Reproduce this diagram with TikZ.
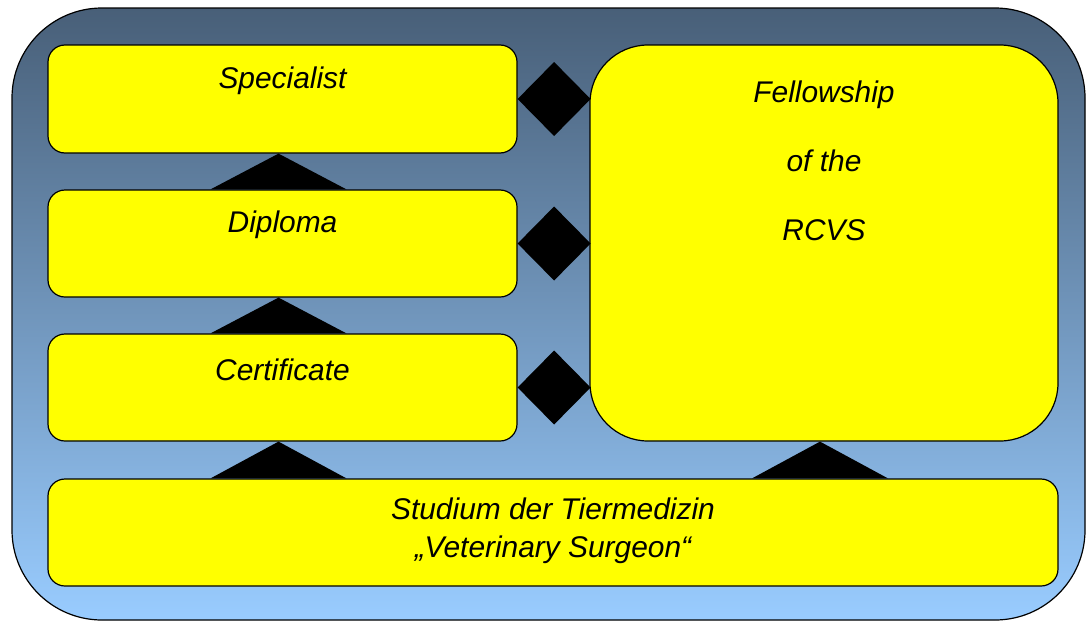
\documentclass[tikz,border=0pt]{standalone}
\usepackage{fontspec}
\setmainfont{Liberation Sans}
\definecolor{bgtop}{RGB}{72,95,120}
\definecolor{bgbot}{RGB}{153,204,255}
\definecolor{boxyellow}{RGB}{255,255,0}
\begin{document}
\begin{tikzpicture}[x=1pt,y=-1pt,
  box/.style={draw=black,line width=1.2pt,fill=boxyellow,rounded corners=17pt,inner sep=0pt},
  lbl/.style={font=\fontsize{29.9}{38}\selectfont\itshape,inner sep=0pt,align=center},
  conn/.style={fill=black}]
\useasboundingbox (0,0) rectangle (1086,621);
\shade[top color=bgtop,bottom color=bgbot,rounded corners=90pt] (12,8) rectangle (1085,620);
\draw[line width=1.2pt,rounded corners=90pt] (12,8) rectangle (1085,620);
% boxes
\node[box,minimum width=469pt,minimum height=108pt] (spec) at (282.5,99) {};
\node[box,minimum width=469pt,minimum height=107pt] (dip) at (282.5,243.5) {};
\node[box,minimum width=469pt,minimum height=107pt] (cert) at (282.5,387.5) {};
\node[box,minimum width=1010pt,minimum height=107pt] (stud) at (553,532.5) {};
\node[box,rounded corners=58pt,minimum width=468pt,minimum height=396pt] (fell) at (824,243) {};
% texts
\node[lbl] (tspec) at ([yshift=-36pt]spec.north) {Specialist};
\node[lbl] (tdip) at ([yshift=-35pt]dip.north) {Diploma};
\node[lbl] (tcert) at ([yshift=-36pt]cert.north) {Certificate};
\node[lbl,font=\fontsize{29.9}{38}\selectfont\itshape] (tstud) at ([yshift=1.5pt]stud.center) {Studium der Tiermedizin\\„Veterinary Surgeon“};
\node[lbl,font=\fontsize{29.9}{69}\selectfont\itshape,anchor=north] (tfell) at ([yshift=-36pt]fell.north) {Fellowship\\of the\\RCVS};
% triangles
\fill[conn] ([xshift=-4pt]spec.south) -- ([xshift=-72pt]dip.north) -- ([xshift=64pt]dip.north) -- cycle;
\fill[conn] ([xshift=-4pt]dip.south) -- ([xshift=-72pt]cert.north) -- ([xshift=64pt]cert.north) -- cycle;
\fill[conn] ([xshift=-4pt]cert.south) -- ([xshift=-72pt]cert.south |- stud.north) -- ([xshift=64pt]cert.south |- stud.north) -- cycle;
\fill[conn] ([xshift=-4pt]fell.south) -- ([xshift=-72pt]fell.south |- stud.north) -- ([xshift=64pt]fell.south |- stud.north) -- cycle;
% diamonds
\fill[conn] (spec.east) -- ++(36.5,-37) -- ++(36.5,37) -- ++(-36.5,37) -- cycle;
\fill[conn] (dip.east) -- ++(36.5,-37) -- ++(36.5,37) -- ++(-36.5,37) -- cycle;
\fill[conn] (cert.east) -- ++(36.5,-37) -- ++(36.5,37) -- ++(-36.5,37) -- cycle;
\end{tikzpicture}
\end{document}
